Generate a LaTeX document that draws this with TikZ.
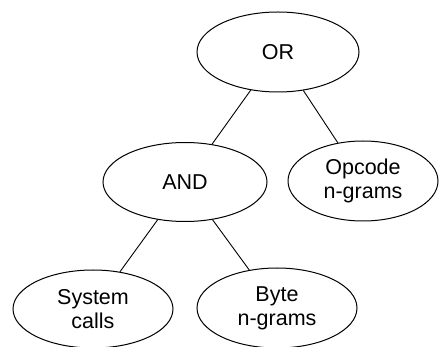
\documentclass[tikz,border=0pt]{standalone}
\usepackage{fontspec}
\setmainfont{Liberation Sans}
\usetikzlibrary{shapes.geometric}
\begin{document}
\begin{tikzpicture}[x=1pt,y=-1pt,
  ell/.style={ellipse,draw=black,line width=1pt,inner sep=0pt,align=center,
    font=\fontsize{21.5}{24}\selectfont},
  edge/.style={draw=black,line width=0.9pt}]
\useasboundingbox (0,0) rectangle (439,347);
\node[ell,minimum width=162,minimum height=80] (or) at (278,52) {OR};
\node[ell,minimum width=164,minimum height=79] (and) at (185,182) {AND};
\node[ell,minimum width=150,minimum height=80] (op) at (363,181) {Opcode\\n-grams};
\node[ell,minimum width=160,minimum height=78] (sys) at (93,309) {System\\calls};
\node[ell,minimum width=160,minimum height=80] (byte) at (277,308) {Byte\\n-grams};
\draw[edge] (or) -- (and);
\draw[edge] (or) -- (op);
\draw[edge] (and) -- (sys);
\draw[edge] (and) -- (byte);
\end{tikzpicture}
\end{document}
